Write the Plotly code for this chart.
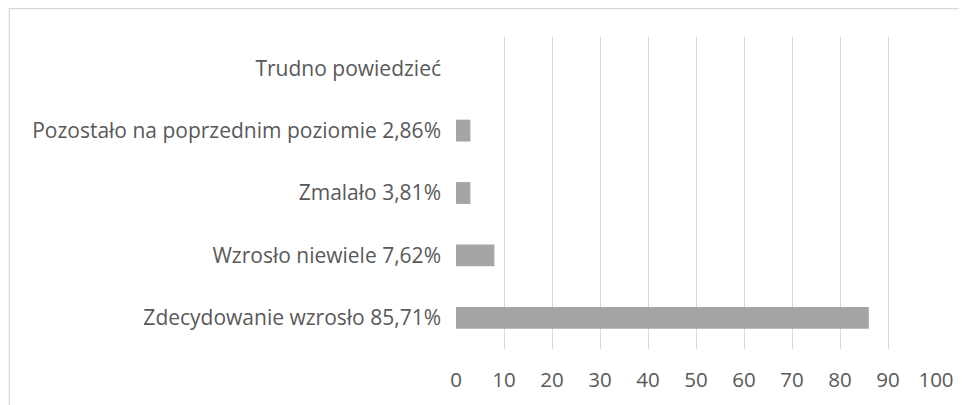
import plotly.graph_objects as go

categories = [
    "Zdecydowanie wzrosło 85,71%",
    "Wzrosło niewiele 7,62%",
    "Zmalało 3,81%",
    "Pozostało na poprzednim poziomie 2,86%",
    "Trudno powiedzieć",
]
values = [86, 8, 3, 3, 0]
x_ticks = list(range(0, 101, 10))

# page body has an 8px margin, so the figure starts at (8, 8)
W, H = 959, 397
ml, mr, mt, mb = 447.5, 31.3, 29, 56

fig = go.Figure(go.Bar(
    x=values, y=categories, orientation="h",
    marker=dict(color="#a5a5a5", line=dict(width=0)),
    width=0.35,
))

fig.update_layout(
    width=W, height=H,
    margin=dict(l=ml, r=mr, t=mt, b=mb, pad=0, autoexpand=False),
    paper_bgcolor="white", plot_bgcolor="white",
    font=dict(family="Open Sans, sans-serif", size=21, color="#595959"),
    showlegend=False,
    xaxis=dict(
        range=[0, 100], tickvals=x_ticks, showgrid=True, gridcolor="#d9d9d9",
        gridwidth=1.3, zeroline=False, showline=False, ticks="", automargin=False,
        tickfont=dict(size=20.5, color="#595959"), ticklabelstandoff=16,
    ),
    yaxis=dict(
        categoryorder="array", categoryarray=categories, automargin=False,
        showgrid=False, zeroline=False, showline=False, ticks="",
        tickfont=dict(size=21, color="#595959"), ticklabelstandoff=14,
        range=[-0.5, 4.5],
    ),
)

pw = W - ml - mr
ph = H - mt - mb
fig.add_shape(type="rect", xref="paper", yref="paper",
              x0=(0.7 - ml) / pw, x1=1 + (mr + 20) / pw,
              y0=-(mb + 20) / ph, y1=1 + (mt - 0.7) / ph,
              line=dict(color="#d9d9d9", width=1.3), layer="below")

fig.write_html("out.html")
